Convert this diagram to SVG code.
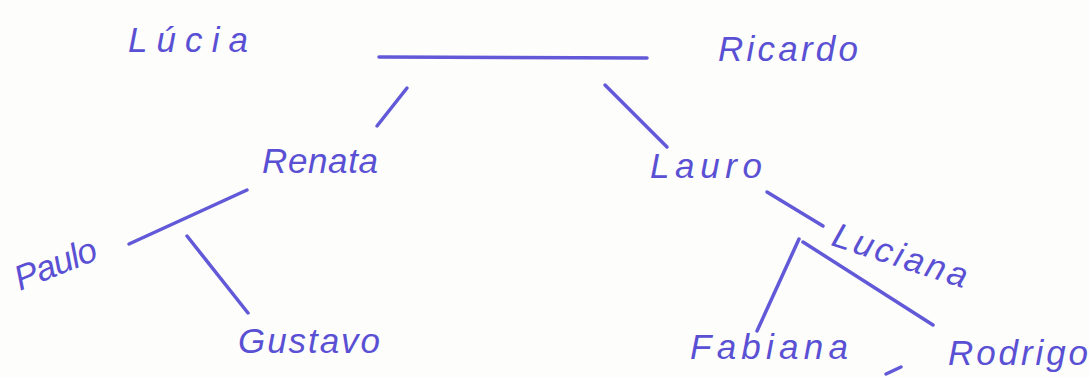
<svg xmlns="http://www.w3.org/2000/svg" width="1090" height="378" viewBox="0 0 1090 378">
  <style>
    .name { font-family: "Liberation Sans", Arial, sans-serif; font-style: italic; font-size: 35px; fill: #5a50d4; }
    .link { stroke: #6259d8; stroke-width: 3.5; stroke-linecap: round; fill: none; }
  </style>
  <rect width="1090" height="378" fill="#fdfdfb"/>

  <!-- family links -->
  <g id="connectors">
    <line class="link" x1="379" y1="57" x2="647" y2="58"/>
    <line class="link" x1="407" y1="88" x2="377" y2="126"/>
    <line class="link" x1="605" y1="85" x2="667" y2="147"/>
    <line class="link" x1="129" y1="244" x2="247" y2="190"/>
    <line class="link" x1="187" y1="236" x2="248" y2="313"/>
    <line class="link" x1="767" y1="192" x2="823" y2="226"/>
    <line class="link" x1="799" y1="239" x2="757" y2="331"/>
    <line class="link" x1="803" y1="242" x2="933" y2="325"/>
    <line class="link" x1="886" y1="374" x2="901" y2="367" stroke-width="3"/>
  </g>

  <g id="lucia"><text class="name" x="128" y="52" textLength="120" lengthAdjust="spacing">Lúcia</text></g>
  <g id="ricardo"><text class="name" x="718" y="61" textLength="140" lengthAdjust="spacing">Ricardo</text></g>
  <g id="renata"><text class="name" x="262" y="173" textLength="116" lengthAdjust="spacing">Renata</text></g>
  <g id="lauro"><text class="name" x="650" y="178" textLength="112" lengthAdjust="spacing">Lauro</text></g>
  <g id="paulo"><text class="name" x="20" y="291" textLength="86" lengthAdjust="spacing" font-size="40" transform="rotate(-22 20 291)">Paulo</text></g>
  <g id="gustavo"><text class="name" x="238" y="353" textLength="142" lengthAdjust="spacing">Gustavo</text></g>
  <g id="luciana"><text class="name" x="830" y="245" textLength="140" lengthAdjust="spacing" transform="rotate(18 830 245)">Luciana</text></g>
  <g id="fabiana"><text class="name" x="690" y="359" textLength="158" lengthAdjust="spacing">Fabiana</text></g>
  <g id="rodrigo"><text class="name" x="948" y="365" textLength="140" lengthAdjust="spacing">Rodrigo</text></g>
</svg>
